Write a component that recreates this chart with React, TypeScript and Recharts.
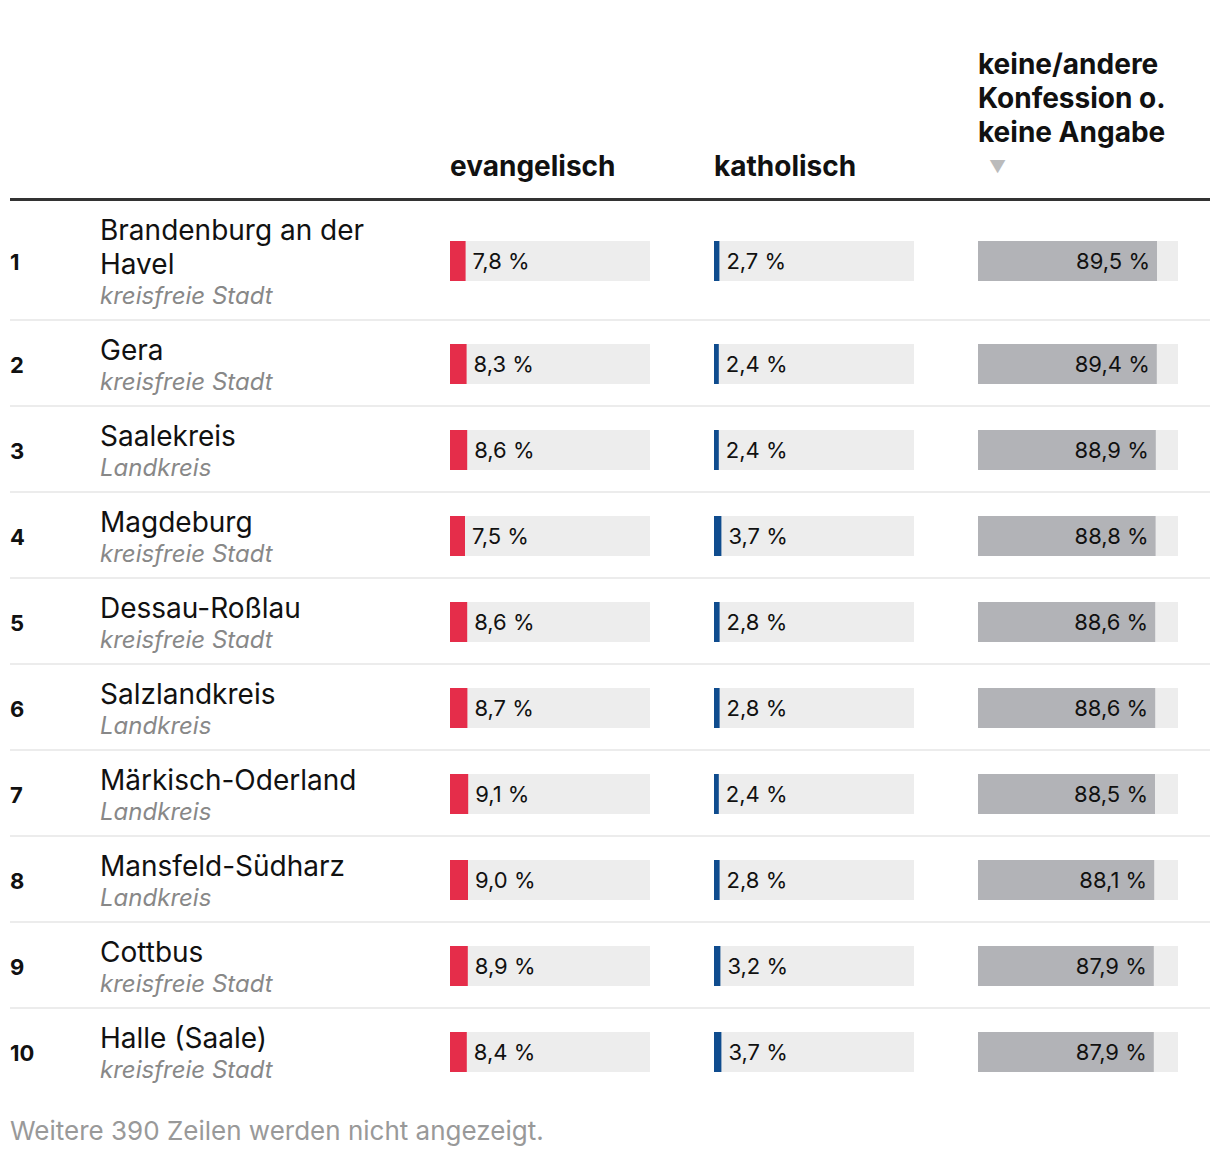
import React from 'react';
import { BarChart, Bar, XAxis, YAxis, LabelList } from 'recharts';

const ranks = [1, 2, 3, 4, 5, 6, 7, 8, 9, 10];
const names = ['Brandenburg an der Havel', 'Gera', 'Saalekreis', 'Magdeburg', 'Dessau-Roßlau', 'Salzlandkreis', 'Märkisch-Oderland', 'Mansfeld-Südharz', 'Cottbus', 'Halle (Saale)'];
const types = ['kreisfreie Stadt', 'kreisfreie Stadt', 'Landkreis', 'kreisfreie Stadt', 'kreisfreie Stadt', 'Landkreis', 'Landkreis', 'Landkreis', 'kreisfreie Stadt', 'kreisfreie Stadt'];
const evangelisch = [7.8, 8.3, 8.6, 7.5, 8.6, 8.7, 9.1, 9.0, 8.9, 8.4];
const katholisch = [2.7, 2.4, 2.4, 3.7, 2.8, 2.8, 2.4, 2.8, 3.2, 3.7];
const keine = [89.5, 89.4, 88.9, 88.8, 88.6, 88.6, 88.5, 88.1, 87.9, 87.9];
const headers = ['evangelisch', 'katholisch', 'keine/andere Konfession o. keine Angabe'];
const footer = 'Weitere 390 Zeilen werden nicht angezeigt.';

const FONT = 'Inter, "Noto Sans", sans-serif';
const fmt = (v: number) => v.toFixed(1).replace('.', ',') + ' %';

function Cell({ value, color, inside }: { value: number; color: string; inside: boolean }) {
  const data = [{ name: 'v', v: value }];
  const renderLabel = (p: any) => {
    const { x, y, width, height, value: val } = p;
    const tx = inside ? x + width - 7 : x + width + 7;
    return (
      <text x={tx} y={y + height / 2} dy="0.38em" textAnchor={inside ? 'end' : 'start'} fontFamily={FONT} fontSize={22} fill="#111">
        {fmt(Number(val))}
      </text>
    );
  };
  return (
    <BarChart width={200} height={40} data={data} layout="vertical" margin={{ top: 0, right: 0, bottom: 0, left: 0 }} barCategoryGap={0} barGap={0}>
      <XAxis type="number" domain={[0, 100]} hide />
      <YAxis type="category" dataKey="name" hide />
      <Bar dataKey="v" fill={color} background={{ fill: '#ededed' }} isAnimationActive={false}>
        <LabelList dataKey="v" content={renderLabel} />
      </Bar>
    </BarChart>
  );
}

export default function App() {
  return (
    <div style={{ position: 'absolute', left: 0, top: 0, width: 1220, height: 1156, background: '#fff', fontFamily: FONT, color: '#111' }}>
      {/* header */}
      <div style={{ position: 'absolute', left: 450, top: 149, fontSize: 28, fontWeight: 700, lineHeight: '34px' }}>{headers[0]}</div>
      <div style={{ position: 'absolute', left: 714, top: 149, fontSize: 28, fontWeight: 700, lineHeight: '34px' }}>{headers[1]}</div>
      <div style={{ position: 'absolute', left: 978, top: 47, width: 215, fontSize: 28, fontWeight: 700, lineHeight: '34px' }}>{headers[2]}</div>
      <div style={{ position: 'absolute', left: 989, top: 154, fontSize: 17, color: '#bbb', lineHeight: '26px' }}>▼</div>
      <div style={{ position: 'absolute', left: 10, top: 198, width: 1200, height: 3, background: '#333' }} />
      {/* rows */}
      <div style={{ position: 'absolute', left: 10, top: 201, width: 1200 }}>
        {ranks.map((r, i) => (
          <div key={r} style={{ position: 'relative', height: i === 0 ? 118 : 84, borderBottom: i < ranks.length - 1 ? '2px solid #ececec' : 'none' }}>
            <div style={{ position: 'absolute', left: 0, top: '50%', marginTop: -11, lineHeight: '26px', fontSize: 22, fontWeight: 700 }}>{r}</div>
            <div style={{ position: 'absolute', left: 90, width: 300, top: '50%', transform: 'translateY(-50%)', marginTop: 2 }}>
              <div style={{ fontSize: 28, lineHeight: '34px' }}>{names[i]}</div>
              <div style={{ fontSize: 24, lineHeight: '30px', fontStyle: 'italic', color: '#888' }}>{types[i]}</div>
            </div>
            <div style={{ position: 'absolute', left: 440, top: '50%', marginTop: -19 }}>
              <Cell value={evangelisch[i]} color="#e52d4a" inside={false} />
            </div>
            <div style={{ position: 'absolute', left: 704, top: '50%', marginTop: -19 }}>
              <Cell value={katholisch[i]} color="#0f4c8e" inside={false} />
            </div>
            <div style={{ position: 'absolute', left: 968, top: '50%', marginTop: -19 }}>
              <Cell value={keine[i]} color="#b2b3b7" inside={true} />
            </div>
          </div>
        ))}
      </div>
      <div style={{ position: 'absolute', left: 10, top: 1115, fontSize: 26, color: '#999', lineHeight: '32px' }}>{footer}</div>
    </div>
  );
}
